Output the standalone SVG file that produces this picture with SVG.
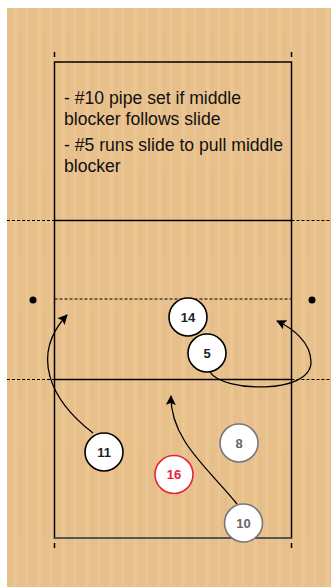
<svg xmlns="http://www.w3.org/2000/svg" width="331" height="587" viewBox="0 0 331 587">
<defs>
<pattern id="wood" width="24" height="140" patternUnits="userSpaceOnUse">
<rect width="24" height="140" fill="#e8c08c"/>
<rect x="2" y="0" width="2" height="140" fill="#edc997" opacity="0.7"/>
<rect x="9" y="10" width="1" height="100" fill="#e1b581" opacity="0.6"/>
<rect x="14" y="0" width="3" height="140" fill="#eecb9a" opacity="0.6"/>
<rect x="20" y="30" width="1" height="90" fill="#dfb37f" opacity="0.5"/>
</pattern>
<marker id="ah" viewBox="0 0 10 10" refX="9" refY="5" markerWidth="10" markerHeight="10" markerUnits="userSpaceOnUse" orient="auto">
<path d="M0,0 L10,5 L0,10 L2,5 Z" fill="#000"/>
</marker>
<style>
.ln{stroke:#000;stroke-width:1.5;fill:none}
.dash{stroke:#000;stroke-width:1.2;stroke-dasharray:3,2;fill:none}
.conn{stroke:#000;stroke-width:1.3;fill:none;marker-end:url(#ah)}
.pc{fill:#fff;stroke:#000;stroke-width:1.6}
.pt{font-family:"Liberation Sans",Arial,sans-serif;font-size:13px;font-weight:bold;text-anchor:middle;fill:#222}
.gray .pc{stroke:#777}
.gray .pt{fill:#666}
.red .pc{stroke:#e8203a}
.red .pt{fill:#e8203a}
.note{font-family:"Liberation Sans",Arial,sans-serif;font-size:17.6px;fill:#111}
</style>
</defs>
<rect x="0" y="0" width="331" height="587" fill="#fff"/>
<rect x="7" y="8" width="324" height="579" fill="url(#wood)"/>
<g id="court">
<rect x="54.5" y="62" width="237" height="476" class="ln"/>
<line x1="54.5" y1="538" x2="291.5" y2="538" stroke="#555" stroke-width="2"/>
<line x1="54.5" y1="52" x2="54.5" y2="57" class="ln"/>
<line x1="291.5" y1="52" x2="291.5" y2="57" class="ln"/>
<line x1="54.5" y1="543" x2="54.5" y2="548" class="ln"/>
<line x1="291.5" y1="543" x2="291.5" y2="548" class="ln"/>
<line x1="54.5" y1="220.5" x2="291.5" y2="220.5" class="ln"/>
<line x1="7" y1="220.5" x2="54.5" y2="220.5" class="dash"/>
<line x1="291.5" y1="220.5" x2="331" y2="220.5" class="dash"/>
<line x1="54.5" y1="379.5" x2="291.5" y2="379.5" class="ln"/>
<line x1="7" y1="379.5" x2="54.5" y2="379.5" class="dash"/>
<line x1="291.5" y1="379.5" x2="331" y2="379.5" class="dash"/>
<line x1="54.5" y1="299" x2="291.5" y2="299" class="dash"/>
<circle cx="33" cy="300" r="3.5" fill="#000"/>
<circle cx="312" cy="300" r="3.5" fill="#000"/>
</g>
<g id="note">
<text class="note" x="64" y="104">- #10 pipe set if middle</text>
<text class="note" x="64" y="125">blocker follows slide</text>
<text class="note" x="64" y="151">- #5 runs slide to pull middle</text>
<text class="note" x="64" y="172">blocker</text>
</g>
<g id="connectors">
<path class="conn" d="M93,433 C50,400 30,355 67,315"/>
<path class="conn" d="M210,372 C222,392 311,395 311,362 C311,342 292,328 277,321"/>
<path class="conn" d="M237,504 C210,470 170,440 171,396"/>
</g>
<g id="p14"><circle class="pc" cx="188" cy="317" r="19"/><text class="pt" x="188" y="321.5">14</text></g>
<g id="p5"><circle class="pc" cx="207" cy="353" r="19"/><text class="pt" x="207" y="357.5">5</text></g>
<g id="p11"><circle class="pc" cx="104" cy="452" r="19"/><text class="pt" x="104" y="456.5">11</text></g>
<g id="p8" class="gray"><circle class="pc" cx="239" cy="443" r="19"/><text class="pt" x="239" y="447.5">8</text></g>
<g id="p16" class="red"><circle class="pc" cx="174" cy="474.5" r="19"/><text class="pt" x="174" y="479">16</text></g>
<g id="p10" class="gray"><circle class="pc" cx="243.5" cy="523" r="19"/><text class="pt" x="243.5" y="527.5">10</text></g>
</svg>
